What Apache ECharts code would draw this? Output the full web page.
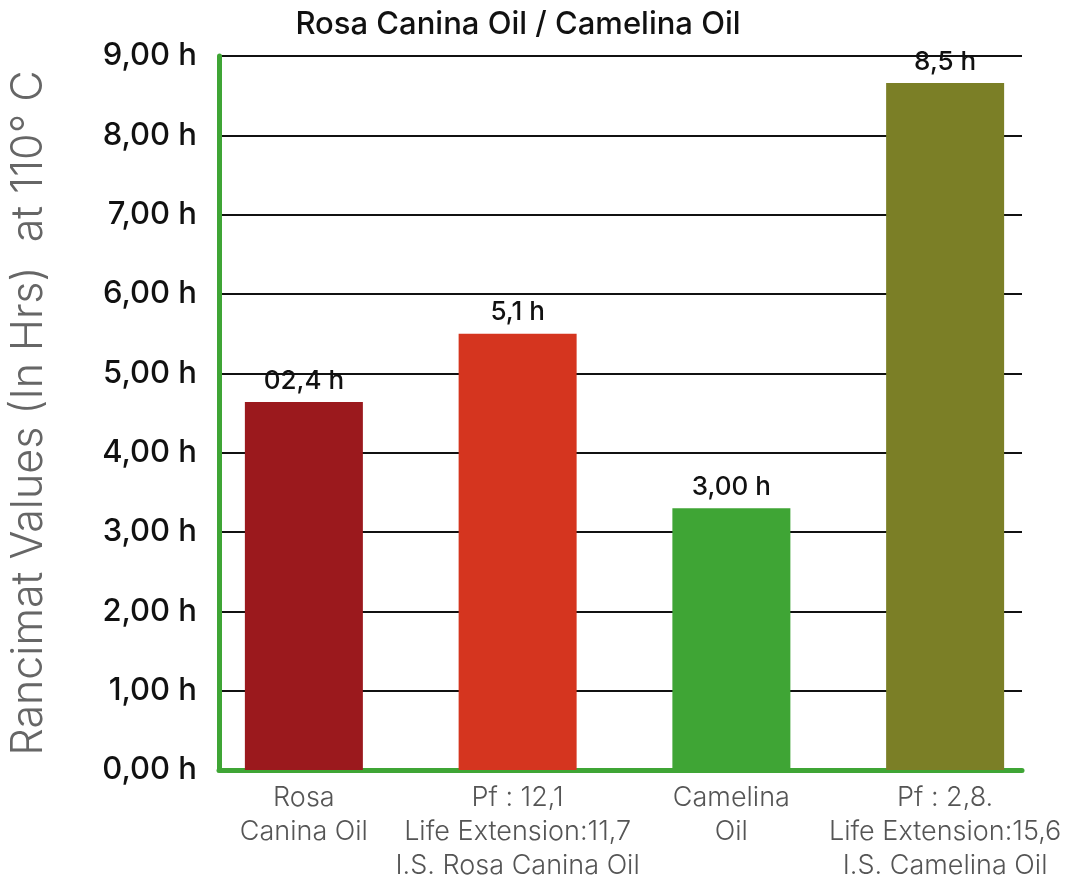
<!DOCTYPE html>
<html>
<head>
<meta charset="utf-8">
<script src="https://cdn.jsdelivr.net/npm/echarts@6/dist/echarts.min.js"></script>
<style>
html,body{margin:0;padding:0;background:#fff;}
#chart{width:1073px;height:888px;}
</style>
</head>
<body>
<div id="chart"></div>
<script>
const title = 'Rosa Canina Oil / Camelina Oil';
const categories = ['Rosa\nCanina Oil', 'Pf : 12,1\nLife Extension:11,7\nI.S. Rosa Canina Oil', 'Camelina\nOil', 'Pf : 2,8.\nLife Extension:15,6\nI.S. Camelina Oil'];
const values = [4.64, 5.50, 3.30, 8.66];
const barLabels = ['02,4 h', '5,1 h', '3,00 h', '8,5 h'];
const barColors = ['#9B191D', '#D5351F', '#3FA535', '#7B7F26'];
const yTickLabels = ['0,00 h', '1,00 h', '2,00 h', '3,00 h', '4,00 h', '5,00 h', '6,00 h', '7,00 h', '8,00 h', '9,00 h'];
const yAxisName = 'Rancimat Values (In Hrs)  at 110° C';

const chart = echarts.init(document.getElementById('chart'), null, {renderer: 'canvas'});
const font = 'Inter, "Open Sans", sans-serif';
chart.setOption({
  backgroundColor: '#ffffff',
  animation: false,
  title: {
    text: title, left: 513, top: 4, textAlign: 'center',
    textStyle: {fontFamily: font, fontSize: 31, fontWeight: 500, color: '#111'}
  },
  grid: [
    {left: 217, right: 51, top: 56, bottom: 118},
    {left: 197, right: 21, top: 56, bottom: 118}
  ],
  xAxis: [
    {
      gridIndex: 0, type: 'category', data: categories,
      axisLine: {show: true, lineStyle: {color: '#3FA535', width: 5}},
      axisTick: {show: false}, axisLabel: {show: false}, splitLine: {show: false}
    },
    {
      gridIndex: 1, type: 'category', data: categories,
      axisLine: {show: false}, axisTick: {show: false},
      axisLabel: {
        show: true, interval: 0, margin: 11, color: '#555',
        fontFamily: font, fontWeight: 300, fontSize: 27, lineHeight: 34, align: 'center'
      }
    }
  ],
  yAxis: [
    {
      gridIndex: 0, type: 'value', min: 0, max: 9, interval: 1,
      name: yAxisName, nameLocation: 'middle', nameRotate: 90, nameGap: 168,
      nameTextStyle: {fontFamily: font, fontWeight: 300, fontSize: 43, color: '#666'},
      axisLine: {show: true, lineStyle: {color: '#3FA535', width: 5}},
      axisTick: {show: false},
      splitLine: {show: true, lineStyle: {color: '#111', width: 2}},
      axisLabel: {
        margin: 22, color: '#111', fontFamily: font, fontWeight: 500, fontSize: 31,
        formatter: (v) => yTickLabels[Math.round(v)]
      }
    },
    {
      gridIndex: 1, type: 'value', min: 0, max: 9, interval: 1, show: false,
      splitLine: {show: false}
    }
  ],
  series: [{
    type: 'bar', xAxisIndex: 1, yAxisIndex: 1, barWidth: 118,
    data: values.map((v, i) => ({value: v, itemStyle: {color: barColors[i]}})),
    label: {
      show: true, position: 'top', distance: 8, color: '#111',
      fontFamily: font, fontWeight: 500, fontSize: 26,
      formatter: (p) => barLabels[p.dataIndex]
    }
  }]
});
</script>
</body>
</html>
